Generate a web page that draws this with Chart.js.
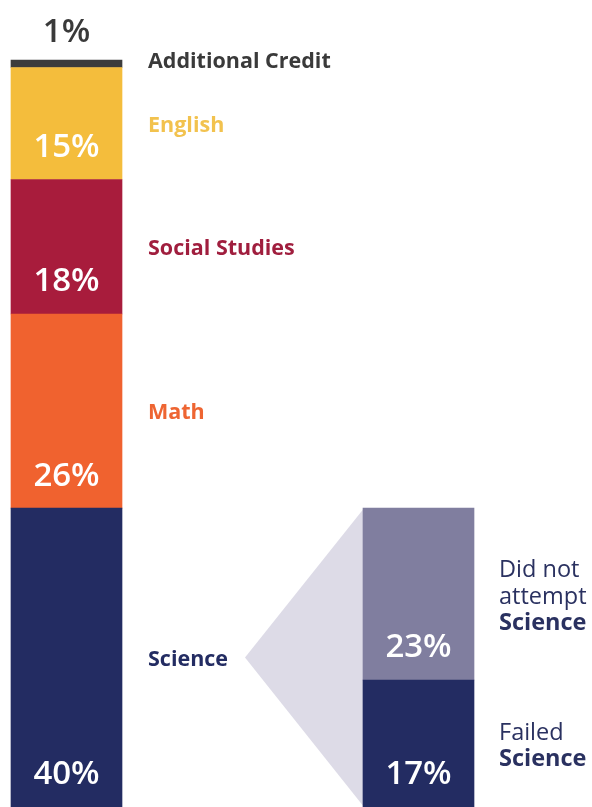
<!DOCTYPE html>
<html>
<head>
<meta charset="utf-8">
<script src="https://cdn.jsdelivr.net/npm/chart.js@4/dist/chart.umd.min.js"></script>
<style>
  html, body { margin: 0; padding: 0; background: #fff; }
  canvas { display: block; }
</style>
</head>
<body>
<canvas id="chart" width="592" height="807"></canvas>
<script>
/* ─── Data ─────────────────────────────────────────────────────────────── */
const bars = ['All subjects', 'Science'];
const subjects = ['Science', 'Math', 'Social Studies', 'English', 'Additional Credit'];
const subjectShares = [40, 26, 18, 15, 1];
const scienceParts = ['Failed\nScience', 'Did not\nattempt\nScience'];
const scienceShares = [17, 23];

/* ─── Styles ───────────────────────────────────────────────────────────── */
const subjectColors = ['#232c62', '#f0622f', '#a81c3c', '#f4bd3c', '#3c3c3c'];
const subjectTextColors = ['#232c62', '#ee6532', '#a01e3e', '#f2c24e', '#3a3a3a'];
const partColors = ['#232c62', '#807e9f'];
const FONT = '"Open Sans", Lato, sans-serif';

const datasets = [
  ...subjects.map((s, i) => ({
    label: s,
    data: [subjectShares[i], null],
    backgroundColor: subjectColors[i],
    textColor: subjectTextColors[i],
    side: 'left'
  })),
  ...scienceParts.map((s, i) => ({
    label: s,
    data: [null, scienceShares[i]],
    backgroundColor: partColors[i],
    textColor: '#2a3160',
    side: 'right'
  }))
].map(d => Object.assign(d, { barThickness: 111, clip: false, borderWidth: 0 }));

/* ─── Funnel triangle + labels ─────────────────────────────────────────── */
const labelsPlugin = {
  id: 'labels',
  beforeDatasetsDraw(chart) {
    const ctx = chart.ctx;
    const parts = chart.data.datasets
      .map((d, i) => ({ d, el: chart.getDatasetMeta(i).data[1] }))
      .filter(o => o.d.side === 'right');
    const left = parts[0].el.x - parts[0].el.width / 2;
    const bottom = parts[0].el.base;
    const top = Math.min(...parts.map(o => o.el.y));
    ctx.save();
    ctx.fillStyle = '#dddbe7';
    ctx.beginPath();
    ctx.moveTo(left - 118, (top + bottom) / 2);
    ctx.lineTo(left + 1, top);
    ctx.lineTo(left + 1, bottom);
    ctx.closePath();
    ctx.fill();
    ctx.restore();
  },
  afterDatasetsDraw(chart) {
    const ctx = chart.ctx;
    ctx.save();
    ctx.textBaseline = 'middle';
    chart.data.datasets.forEach((d, i) => {
      const idx = d.side === 'left' ? 0 : 1;
      const el = chart.getDatasetMeta(i).data[idx];
      const value = d.data[idx];
      const top = Math.min(el.y, el.base);
      const bot = Math.max(el.y, el.base);
      const mid = (top + bot) / 2;
      const thin = bot - top < 30;

      // value label
      ctx.textAlign = 'center';
      ctx.font = '600 33px ' + FONT;
      if (thin) {
        ctx.fillStyle = '#3a3a3a';
        ctx.fillText(value + '%', el.x, top - 27);
      } else {
        ctx.fillStyle = '#ffffff';
        ctx.fillText(value + '%', el.x, bot - 32);
      }

      // category label
      const x = el.x + el.width / 2 + 26;
      ctx.textAlign = 'left';
      if (d.side === 'left') {
        ctx.font = 'bold 21.5px ' + FONT;
        ctx.fillStyle = d.textColor;
        ctx.fillText(d.label, x, thin ? mid - 2 : mid + 2);
      } else {
        const lines = d.label.split('\n');
        const lh = 26.5;
        lines.forEach((ln, k) => {
          ctx.font = (k === lines.length - 1 ? 'bold 23.5px ' : '23.5px ') + FONT;
          ctx.fillStyle = '#2a3160';
          ctx.fillText(ln, x - 1, mid + 3 + (k - (lines.length - 1) / 2) * lh);
        });
      }
    });
    ctx.restore();
  }
};

new Chart(document.getElementById('chart'), {
  type: 'bar',
  data: { labels: bars, datasets },
  options: {
    responsive: false,
    animation: false,
    layout: { padding: { left: 66.5, right: 173.5, top: 60, bottom: 0 } },
    plugins: { legend: { display: false }, tooltip: { enabled: false } },
    scales: {
      x: { type: 'category', offset: false, stacked: true, display: false },
      y: { min: 0, max: 100, stacked: true, display: false }
    }
  },
  plugins: [labelsPlugin]
});
</script>
</body>
</html>
